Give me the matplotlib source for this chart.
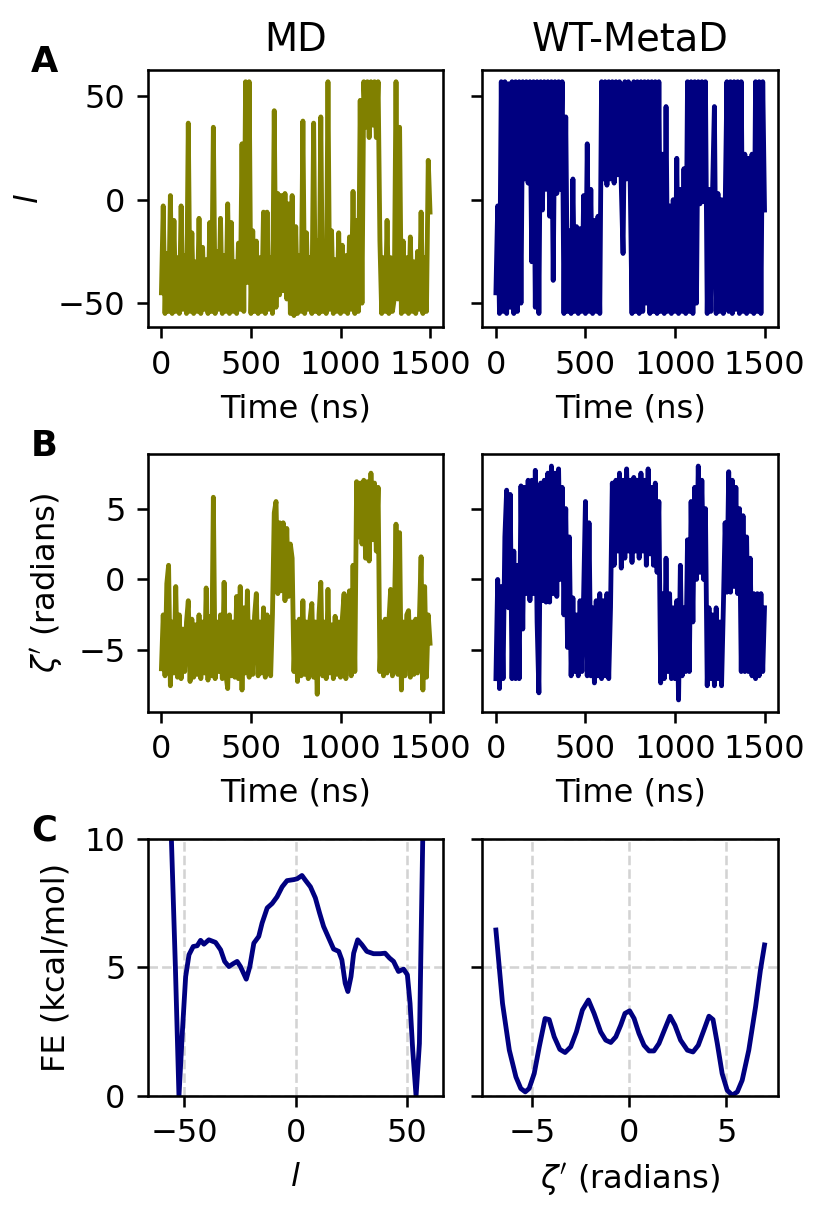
import numpy as np
import matplotlib
matplotlib.use("Agg")
import matplotlib.pyplot as plt

# keep every zigzag vertex of the dense trajectories
plt.rcParams["path.simplify"] = False

# time axis of the trajectories (ns)
time_ns = np.arange(0, 1501, 10)

# MD trajectory, l
md_l = [
    -45, -3, -55, -26, -54, 2, -55, -10, -54, -28,
    -55, -3, -53, -27, -55, 37, -54, -16, -55, -30,
    -54, -9, -55, -23, -53, -29, -55, -11, -54, 35,
    -55, -25, -53, -9, -55, -27, -54, -2, -55, -11,
    -54, -30, -55, -21, -53, 27, -54, 57, -40, 57,
    -55, -15, -54, -20, -55, -28, -54, -6, -55, -6,
    -53, -28, -55, 43, -52, 3, -46, 2, -44, 3,
    -48, -2, -55, 2, -56, -13, -55, -27, -54, 38,
    -55, -16, -53, -28, -55, 37, -54, -20, -55, 40,
    -54, -27, -55, 57, -53, -15, -55, -29, -54, -16,
    -55, -22, -54, -27, -55, -18, -53, 4, -55, -10,
    -54, 48, -50, 57, 35, 57, 30, 57, 36, 57,
    30, 57, -20, -55, -28, -54, -10, -55, -28, -54,
    -48, 57, -48, 35, -55, -20, -54, -28, -55, -18,
    -54, -30, -55, -25, -53, -6, -55, -28, -54, 19,
    -6,
]

# WT-MetaD trajectory, l
wt_l = [
    -45, -3, -55, 57, -54, 57, -55, 56, -52, 57,
    -55, 57, -54, 57, -50, 57, 10, 57, 8, 57,
    -30, 57, -52, 57, -55, 57, -5, 57, 5, 57,
    -8, 57, -39, 57, 3, 57, 5, 57, -55, 40,
    -54, -15, -55, 10, -54, -13, -55, -14, -54, 2,
    -55, 27, -54, 5, -55, -10, -54, -8, -55, 57,
    10, 57, 7, 57, 10, 57, 8, 57, 12, 57,
    7, -26, 57, 10, 57, 8, -55, 57, -54, 57,
    -55, 57, -54, 57, -50, 57, -55, 57, -54, 57,
    -55, 57, -54, 22, -55, 45, -54, -3, -55, 0,
    -54, 20, -55, 5, -54, 15, -55, 57, -54, 57,
    -55, 57, -50, 57, -2, 57, -1, 57, -55, 5,
    -54, 5, 45, -55, 3, -54, 0, -55, -5, 57,
    -54, 57, -55, 57, -53, 57, -55, 57, -54, 22,
    -55, 20, -54, 22, -55, 57, -54, 57, -55, 57,
    -5,
]

# MD trajectory, zeta'
md_zeta = [
    -6.3, -2.5, -6.8, -0.3, 1.0, -7.5, -3.0, -6.6, -0.5, -6.9,
    -2.5, -7.0, -3.5, -6.5, -3.0, -1.5, -7.2, -2.8, -6.9, -3.2,
    -6.7, -2.5, -7.0, -3.0, -6.6, -0.6, -7.1, -2.6, -6.8, 5.8,
    -7.0, -3.0, -6.5, -2.5, -7.0, -0.2, -6.7, -7.7, -2.5, -6.8,
    -3.0, -6.9, -1.2, -7.0, -0.5, -7.8, -2.0, -6.6, -0.8, -6.9,
    -3.0, -6.7, -2.6, -1.0, -6.8, -3.0, -6.6, -2.0, -6.9, -2.5,
    -3.0, -6.8, -2.5, 4.7, 5.5, -1.0, 4.0, -0.8, 4.0, -1.5,
    3.6, -1.2, 2.5, 1.5, -6.5, -3.0, -7.2, -2.8, -6.8, -1.5,
    -6.7, -3.0, -7.0, -2.8, -1.7, -6.9, -3.0, -8.1, -2.5, -0.2,
    -6.8, -3.0, -7.0, -0.7, -6.6, -3.2, -7.0, -2.6, -6.7, -3.0,
    -6.9, -2.8, -1.0, -7.0, -3.0, -0.8, -6.8, 1.0, -6.5, 6.9,
    3.0, 6.8, 2.5, 7.0, 1.5, 6.9, 1.3, 7.5, 2.8, 6.8,
    2.0, 6.5, -6.5, -3.0, -6.8, -2.8, -6.6, -3.0, -0.7, -6.8,
    -3.0, 3.9, -6.7, 3.3, -7.8, -3.0, -6.8, -2.5, -2.2, -6.9,
    -3.0, -6.7, -2.8, -6.6, -3.0, 1.6, -7.8, -0.5, -6.9, -2.5,
    -4.5,
]

# WT-MetaD trajectory, zeta'
wt_zeta = [
    -7.0, 0.0, -7.7, -0.5, -7.0, 3.0, 6.3, -2.0, 6.0, -7.0,
    2.0, -7.0, 1.0, -7.0, 6.6, -3.5, 6.5, -1.0, 7.0, -1.5,
    7.0, -1.0, 7.7, -3.0, -8.0, 6.8, -1.5, 7.0, -1.6, 7.5,
    -1.6, 8.0, -1.0, 7.5, -1.2, 7.8, 0.0, 6.5, -2.5, 5.0,
    -4.8, 3.0, -6.8, -1.3, -6.5, -2.5, -6.8, -1.5, -6.5, -1.0,
    5.5, -6.8, 4.0, -6.8, -2.0, -7.3, -1.5, -6.8, -1.0, -7.0,
    -1.5, -6.8, -1.0, -7.0, -2.0, 6.8, 1.0, 7.0, 2.0, 7.5,
    0.8, 7.0, 1.5, 7.8, 2.0, 7.0, 1.2, 7.2, 2.0, 7.0,
    1.5, 7.5, 2.0, 7.0, 1.0, 7.8, 1.8, 6.5, 1.0, 6.8,
    0.5, 5.5, -7.3, -1.0, -7.0, 1.5, -6.5, -1.0, -7.0, -2.0,
    -7.0, -1.5, -8.5, 1.0, -6.8, -2.0, -6.5, 2.8, -6.5, 5.5,
    -3.0, 6.5, 0.0, 8.0, 0.5, 7.0, 0.0, 5.0, -7.5, -2.0,
    -7.0, -2.5, -7.5, -2.0, -7.0, -3.0, -7.5, -2.0, 4.0, -0.9,
    7.6, -0.9, 7.0, -0.5, 6.5, -1.0, 5.0, -6.5, 4.5, -6.5,
    3.0, -6.5, 1.5, -6.8, -1.0, -7.0, -1.0, -6.8, -1.0, -6.5,
    -2.0,
]

# free energy profile along l (MD)
fe_l_x = [-60.3, -57.5, -55.8, -54.0, -52.4, -50.8, -49.4, -47.9, -46.0, -44.2,
          -42.7, -41.2, -39.0, -36.0, -33.7, -31.9, -30.0, -28.1, -26.3, -24.8,
          -22.2, -20.6, -18.8, -16.6, -15.1, -12.8, -10.6, -8.4, -6.1, -3.9,
          -0.9, 0.6, 2.8, 4.3, 6.6, 8.8, 10.7, 12.5, 14.8, 17.0,
          19.3, 20.7, 22.2, 23.4, 24.8, 26.0, 27.8, 29.7, 31.9, 34.9,
          37.9, 40.1, 42.1, 43.9, 46.1, 48.4, 50.1, 51.3, 52.5, 54.0,
          55.5, 57.0, 58.5, 60.3]
fe_l_y = [30.0, 14.0, 10.0, 5.0, 0.0, 2.6, 4.64, 5.49, 5.81, 5.84,
          6.05, 5.9, 6.07, 5.97, 5.68, 5.23, 5.03, 5.14, 5.23, 5.03,
          4.54, 5.03, 5.94, 6.2, 6.72, 7.31, 7.48, 7.74, 8.13, 8.37,
          8.41, 8.44, 8.57, 8.39, 8.13, 7.7, 7.11, 6.59, 6.14, 5.71,
          5.62, 5.29, 4.38, 4.06, 4.64, 5.55, 6.07, 5.88, 5.62, 5.53,
          5.53, 5.55, 5.36, 5.23, 4.84, 4.93, 4.71, 3.6, 1.78, 0.0,
          2.04, 10.0, 16.0, 30.0]

# free energy profile along zeta' (WT-MetaD)
fe_z_x = [-6.85, -6.51, -6.16, -5.82, -5.57, -5.34, -5.14, -4.88, -4.62, -4.32,
          -4.11, -3.85, -3.56, -3.29, -3.0, -2.71, -2.4, -2.09, -1.8, -1.46,
          -1.2, -0.94, -0.68, -0.43, -0.21, 0.03, 0.26, 0.51, 0.77, 1.03,
          1.28, 1.54, 1.85, 2.11, 2.36, 2.65, 3.0, 3.29, 3.56, 3.85,
          4.11, 4.32, 4.54, 4.79, 5.05, 5.31, 5.57, 5.82, 6.16, 6.51,
          6.76, 6.97]
fe_z_y = [6.45, 3.6, 1.78, 0.74, 0.29, 0.16, 0.29, 0.87, 1.91, 3.01,
          2.97, 2.3, 1.81, 1.69, 1.91, 2.49, 3.34, 3.73, 3.21, 2.49,
          2.17, 2.08, 2.3, 2.75, 3.21, 3.31, 3.01, 2.43, 1.97, 1.75,
          1.75, 2.04, 2.62, 3.1, 2.75, 2.17, 1.78, 1.71, 1.97, 2.56,
          3.1, 2.97, 2.04, 0.87, 0.22, 0.03, 0.16, 0.61, 1.78, 3.47,
          4.9, 5.87]

olive = "#808000"
navy = "#000080"
DPI = 231

fig, axes = plt.subplots(3, 2, figsize=(830 / DPI, 1224 / DPI), dpi=DPI, sharey="row")
fig.subplots_adjust(left=0.1783, right=0.9373, top=0.9428, bottom=0.1046,
                    wspace=0.132, hspace=0.494)

# row A
axes[0, 0].plot(time_ns, md_l, color=olive)
axes[0, 1].plot(time_ns, wt_l, color=navy)
axes[0, 0].set_title("MD")
axes[0, 1].set_title("WT-MetaD")
axes[0, 0].set_ylabel("$l$")

# row B
axes[1, 0].plot(time_ns, md_zeta, color=olive)
axes[1, 1].plot(time_ns, wt_zeta, color=navy)
axes[1, 0].set_ylabel("$\\zeta'$ (radians)")

for ax in axes[:2].ravel():
    ax.set_xlabel("Time (ns)")
    ax.set_xticks([0, 500, 1000, 1500])

# row C
axes[2, 0].plot(fe_l_x, fe_l_y, color=navy)
axes[2, 1].plot(fe_z_x, fe_z_y, color=navy)
axes[2, 0].set_ylim(0, 10)
axes[2, 0].set_yticks([0, 5, 10])
axes[2, 0].set_xlim(-66.3, 66.3)
axes[2, 0].set_ylabel("FE (kcal/mol)")
axes[2, 0].set_xlabel("$l$")
axes[2, 1].set_xlabel("$\\zeta'$ (radians)")
for ax in axes[2]:
    ax.grid(True, linestyle="--", color="lightgray", linewidth=0.8)

# panel letters
for lab, ax in zip("ABC", axes[:, 0]):
    top = ax.get_position().y1
    fig.text(31 / 830, top - 1.5 / 1224, lab, fontsize=11, fontweight="bold", va="baseline")

fig.savefig("out.png", dpi=DPI)
